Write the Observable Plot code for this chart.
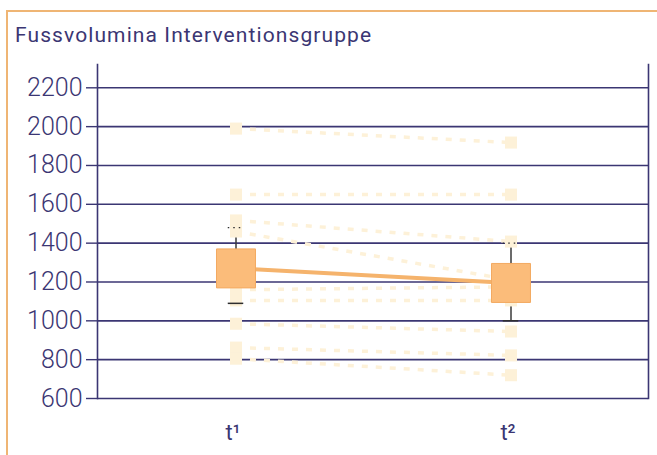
<!DOCTYPE html>
<html>
<head>
<meta charset="utf-8">
<script src="https://cdn.jsdelivr.net/npm/d3@7"></script>
<script src="https://cdn.jsdelivr.net/npm/@observablehq/plot@0.6"></script>
<style>
  html, body { margin: 0; padding: 0; background: #fff; }
  #wrap { position: relative; width: 657px; height: 455px; overflow: hidden; }
  #border { position: absolute; left: 6px; top: 10px; right: -5px; bottom: -5px;
            border-top: 2px solid #efb574; border-left: 2px solid #efb574; }
  #title { position: absolute; left: 15px; top: 22px; font-family: Roboto, sans-serif;
           font-size: 21px; line-height: 26px; letter-spacing: 1.1px; color: #3b3673; }
  #chart { position: absolute; left: 0; top: 55px; }
</style>
</head>
<body>
<div id="wrap">
  <div id="border"></div>
  <div id="title">Fussvolumina Interventionsgruppe</div>
  <div id="chart"></div>
</div>
<script>
const times = ["t1", "t2"];
const timeLabels = ["t¹", "t²"];
const yTicks = [600, 800, 1000, 1200, 1400, 1600, 1800, 2000, 2200];
const subjT1 = [1990, 1650, 1517, 1460, 1160, 1105, 985, 862, 805];
const subjT2 = [1918, 1650, 1408, 1210, 1175, 1105, 945, 822, 720];
const meanVals = [1270, 1195];
const sdLow = [1090, 1000];
const sdHigh = [1480, 1400];

const ink = "#3b3673";
const cream = "#fdf1d8";
const orange = "#f5b36c";
const boxFill = "#fbbc7a";
const boxStroke = "#f3aa62";

const pairs = subjT1.map((a, i) => ({a, b: subjT2[i]}));
const points = [
  ...subjT1.map(v => ({t: "t1", v})),
  ...subjT2.map(v => ({t: "t2", v}))
];
const stats = times.map((t, i) => ({t, mean: meanVals[i], lo: sdLow[i], hi: sdHigh[i]}));

const W = 657, ML = 97, MR = 9;
const bandW = (W - ML - MR) / times.length;
const capInset = (bandW - 16) / 2;

const chart = Plot.plot({
  width: W,
  height: 400,
  marginLeft: ML,
  marginRight: MR,
  marginTop: 9,
  marginBottom: 57,
  x: {type: "band", domain: times, padding: 0, axis: null},
  y: {domain: [600, 2320], axis: null},
  style: {color: ink, background: "transparent", fontFamily: "Roboto, sans-serif", overflow: "visible"},
  marks: [
    Plot.ruleY(yTicks, {stroke: ink, strokeWidth: 1.6}),
    Plot.frame({anchor: "left", stroke: ink, strokeWidth: 1.6}),
    Plot.frame({anchor: "right", stroke: ink, strokeWidth: 1.6}),
    Plot.axisY({ticks: yTicks, label: null, tickSize: 11, tickPadding: 4, fontSize: 25, fontWeight: 300, tickFormat: d => String(d), stroke: ink, strokeWidth: 1.4}),
    Plot.axisX({label: null, tickSize: 0, tickPadding: 26, fontSize: 22, dx: -3, tickFormat: d => timeLabels[times.indexOf(d)]}),
    Plot.link(pairs, {x1: () => "t1", y1: "a", x2: () => "t2", y2: "b", stroke: cream, strokeWidth: 3.5, strokeDasharray: "6,8"}),
    Plot.ruleX(stats, {x: "t", y1: "lo", y2: "hi", stroke: "#3a3a3a", strokeWidth: 1.5}),
    Plot.dot(points, {x: "t", y: "v", symbol: "square", r: 6.8, fill: cream}),
    Plot.tickY(stats, {x: "t", y: "lo", stroke: "#2e2e2e", strokeWidth: 1.5, insetLeft: capInset, insetRight: capInset}),
    Plot.tickY(stats, {x: "t", y: "hi", stroke: "#2e2e2e", strokeWidth: 1.2, strokeDasharray: "1.5,4", insetLeft: capInset, insetRight: capInset}),
    Plot.line(stats, {x: "t", y: "mean", stroke: orange, strokeWidth: 4}),
    Plot.dot(stats, {x: "t", y: "mean", symbol: "square", r: 22, fill: boxFill, stroke: boxStroke, strokeWidth: 1})
  ]
});
document.getElementById("chart").appendChild(chart);
</script>
</body>
</html>
